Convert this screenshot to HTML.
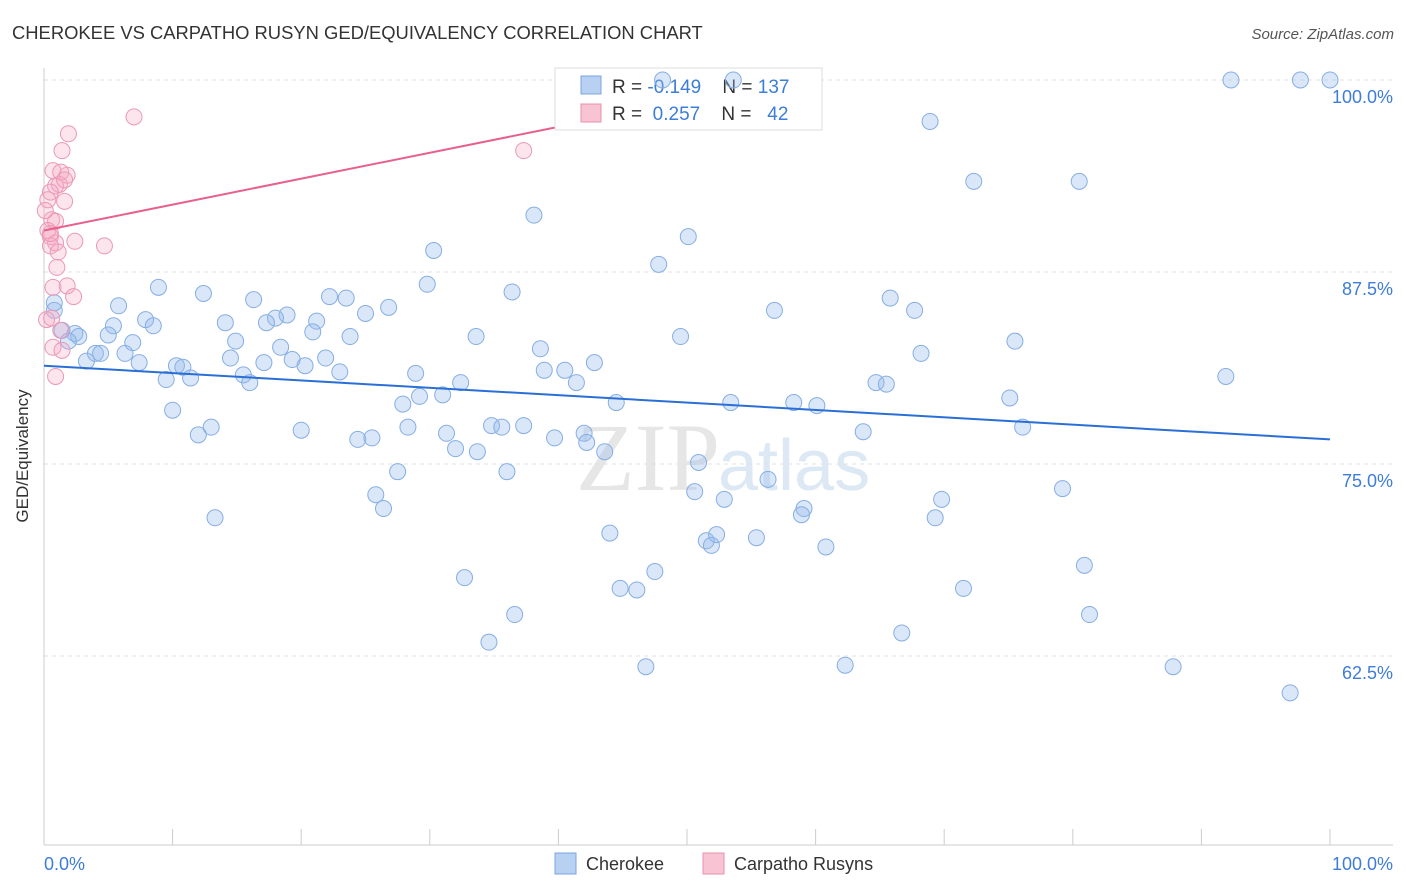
<!DOCTYPE html>
<html><head><meta charset="utf-8"><style>
body{margin:0;background:#fff;font-family:"Liberation Sans",sans-serif;}
svg{display:block}
.pre{white-space:pre}
</style></head><body>
<svg id="chart" width="1406" height="892">
<text x="12" y="39" font-size="18.4" fill="#333">CHEROKEE VS CARPATHO RUSYN GED/EQUIVALENCY CORRELATION CHART</text>
<text x="1394" y="39" font-size="15" fill="#555" font-style="italic" text-anchor="end">Source: ZipAtlas.com</text>
<text x="720" y="490" font-size="96" fill="#e6e6e6" text-anchor="end" font-family="Liberation Serif">ZIP</text>
<text x="718" y="490" font-size="72" fill="#dde8f5">atlas</text>
<g id="grid"></g>
<line x1="44" y1="68" x2="44" y2="845" stroke="#ccc"/>
<line x1="44" y1="845" x2="1393" y2="845" stroke="#ccc"/>
<text x="28" y="456" font-size="17" fill="#333" text-anchor="middle" transform="rotate(-90 28 456)">GED/Equivalency</text>
<text x="44" y="870" font-size="18" fill="#3d7dd8">0.0%</text>
<text x="1393" y="870" font-size="18" fill="#3d7dd8" text-anchor="end">100.0%</text>
<g>
<rect x="555" y="68" width="267" height="62" fill="#fff" stroke="#ddd"/>
<rect x="581" y="76" width="20" height="18" fill="#b8d0f2" stroke="#7aa6e0"/>
<rect x="581" y="104" width="20" height="18" fill="#f8c4d4" stroke="#e890ad"/>
<text class="pre" x="612" y="93" font-size="19" fill="#333">R = <tspan fill="#3d7dd8">-0.149</tspan>    N = <tspan fill="#3d7dd8">137</tspan></text>
<text class="pre" x="612" y="120" font-size="19" fill="#333">R =  <tspan fill="#3d7dd8">0.257</tspan>    N =  <tspan fill="#3d7dd8"> 42</tspan></text>
</g>
<g id="pts"></g>
<g>
<rect x="555" y="853" width="21" height="21" fill="#b8d0f2" stroke="#7aa6e0"/>
<text x="586" y="870" font-size="18" fill="#333">Cherokee</text>
<rect x="703" y="853" width="21" height="21" fill="#f8c4d4" stroke="#e890ad"/>
<text x="734" y="870" font-size="18" fill="#333">Carpatho Rusyns</text>
</g>
</svg>
<script>
const yTicks=[100,87.5,75,62.5];
const yTickLabels=["100.0%","87.5%","75.0%","62.5%"];
const xTicks=[0,10,20,30,40,50,60,70,80,90,100];
const cherokeeX=[48.1,53.6,92.3,97.7,100,68.9,72.3,80.5,38.1,50.1,30.3,47.8,8.9,12.4,16.3,5.8,22.2,23.5,29.8,36.4,26.8,25.0,18.9,18.0,17.3,14.1,7.9,8.5,5.4,5.0,2.4,1.4,2.7,1.9,21.2,20.9,23.8,33.6,49.5,56.8,65.8,67.7,75.5,68.2,3.3,4.0,4.4,6.3,6.9,7.4,14.9,14.5,17.1,18.4,19.3,20.3,21.9,23.0,15.5,16.0,10.3,10.8,9.5,11.4,28.9,32.4,38.6,38.9,40.5,41.4,42.8,31.0,29.2,27.9,44.5,53.4,58.3,60.1,64.7,65.5,75.1,91.9,10.0,13.0,12.0,20.0,24.4,25.5,28.3,31.3,32.0,33.7,34.8,35.6,37.3,39.7,42.0,42.2,43.6,50.9,63.7,76.1,27.5,36.0,25.8,26.4,13.3,50.6,52.9,56.3,59.1,58.9,69.8,69.3,79.2,44.0,51.5,51.9,52.3,55.4,60.8,32.7,47.5,44.8,46.1,71.5,80.9,36.6,34.6,81.3,66.7,46.8,62.3,87.8,96.9,0.8,0.8];
const cherokeeY=[100,100,100,100,100,97.3,93.4,93.4,91.2,89.8,88.9,88.0,86.5,86.1,85.7,85.3,85.9,85.8,86.7,86.2,85.2,84.8,84.7,84.5,84.2,84.2,84.4,84.0,84.0,83.4,83.5,83.7,83.3,83.0,84.3,83.6,83.3,83.3,83.3,85.0,85.8,85.0,83.0,82.2,81.7,82.2,82.2,82.2,82.9,81.6,83.0,81.9,81.6,82.6,81.8,81.4,81.9,81.0,80.8,80.3,81.4,81.3,80.5,80.6,80.9,80.3,82.5,81.1,81.1,80.3,81.6,79.5,79.4,78.9,79.0,79.0,79.0,78.8,80.3,80.2,79.3,80.7,78.5,77.4,76.9,77.2,76.6,76.7,77.4,77.0,76.0,75.8,77.5,77.4,77.5,76.7,77.0,76.4,75.8,75.1,77.1,77.4,74.5,74.5,73.0,72.1,71.5,73.2,72.7,74.0,72.1,71.7,72.7,71.5,73.4,70.5,70.0,69.7,70.4,70.2,69.6,67.6,68.0,66.9,66.8,66.9,68.4,65.2,63.4,65.2,64.0,61.8,61.9,61.8,60.1,85.0,85.5];
const rusynX=[7.0,1.9,1.4,37.3,0.7,1.8,1.3,0.9,1.2,1.6,0.5,1.6,0.6,0.9,0.3,0.5,0.9,0.5,1.1,2.4,4.7,1.0,0.7,1.8,2.3,0.2,0.6,1.3,0.7,1.4,0.9,0.3,0.5,0.1];
const rusynY=[97.6,96.5,95.4,95.4,94.1,93.8,94.0,93.1,93.2,93.5,92.7,92.1,90.9,90.8,90.2,89.8,89.4,89.2,88.8,89.5,89.2,87.8,86.5,86.6,85.9,84.4,84.5,83.7,82.6,82.4,80.7,92.2,90.0,91.5];
const cherokeeTrend=[[0,81.4],[100,76.6]];
const rusynTrend=[[0,90.2],[39.7,96.9]];

const NS="http://www.w3.org/2000/svg";
function xs(v){return 44+v*12.86;}
function ys(v){return 80+(100-v)*15.36;}
const grid=document.getElementById('grid');
yTicks.forEach((t,i)=>{
  const l=document.createElementNS(NS,'line');
  l.setAttribute('x1',44);l.setAttribute('x2',1393);l.setAttribute('y1',ys(t));l.setAttribute('y2',ys(t));
  l.setAttribute('stroke','#e2e2e2');l.setAttribute('stroke-dasharray','4 4');
  
  
  grid.appendChild(l);
  const tx=document.createElementNS(NS,'text');
  tx.setAttribute('x',1393);tx.setAttribute('y',ys(t)+23);tx.setAttribute('text-anchor','end');
  tx.setAttribute('font-size','18');tx.setAttribute('fill','#3d7dd8');tx.textContent=yTickLabels[i];
  
  
  grid.appendChild(tx);
});
xTicks.forEach(t=>{
  const l=document.createElementNS(NS,'line');
  l.setAttribute('x1',xs(t));l.setAttribute('x2',xs(t));l.setAttribute('y1',829);l.setAttribute('y2',845);
  l.setAttribute('stroke','#ccc');
  
  
  grid.appendChild(l);
});
const pts=document.getElementById('pts');
function dots(X,Y,fill,stroke,name){
  X.forEach((x,i)=>{
    const c=document.createElementNS(NS,'circle');
    c.setAttribute('cx',xs(x));c.setAttribute('cy',ys(Y[i]));c.setAttribute('r',8);
    c.setAttribute('fill',fill);c.setAttribute('stroke',stroke);
    
    
    pts.appendChild(c);
  });
}
function trend(T,color,name){
  const l=document.createElementNS(NS,'line');
  l.setAttribute('x1',xs(T[0][0]));l.setAttribute('y1',ys(T[0][1]));
  l.setAttribute('x2',xs(T[1][0]));l.setAttribute('y2',ys(T[1][1]));
  l.setAttribute('stroke',color);l.setAttribute('stroke-width',2);
  
  
  pts.appendChild(l);
}
dots(cherokeeX,cherokeeY,'rgba(150,186,235,0.35)','#86aee4','cherokee-point');
dots(rusynX,rusynY,'rgba(244,170,196,0.3)','#ec98b6','rusyn-point');
trend(cherokeeTrend,'#2a6fd6','cherokee-trend-line');
trend(rusynTrend,'#e8608c','rusyn-trend-line');
</script>
</body></html>
